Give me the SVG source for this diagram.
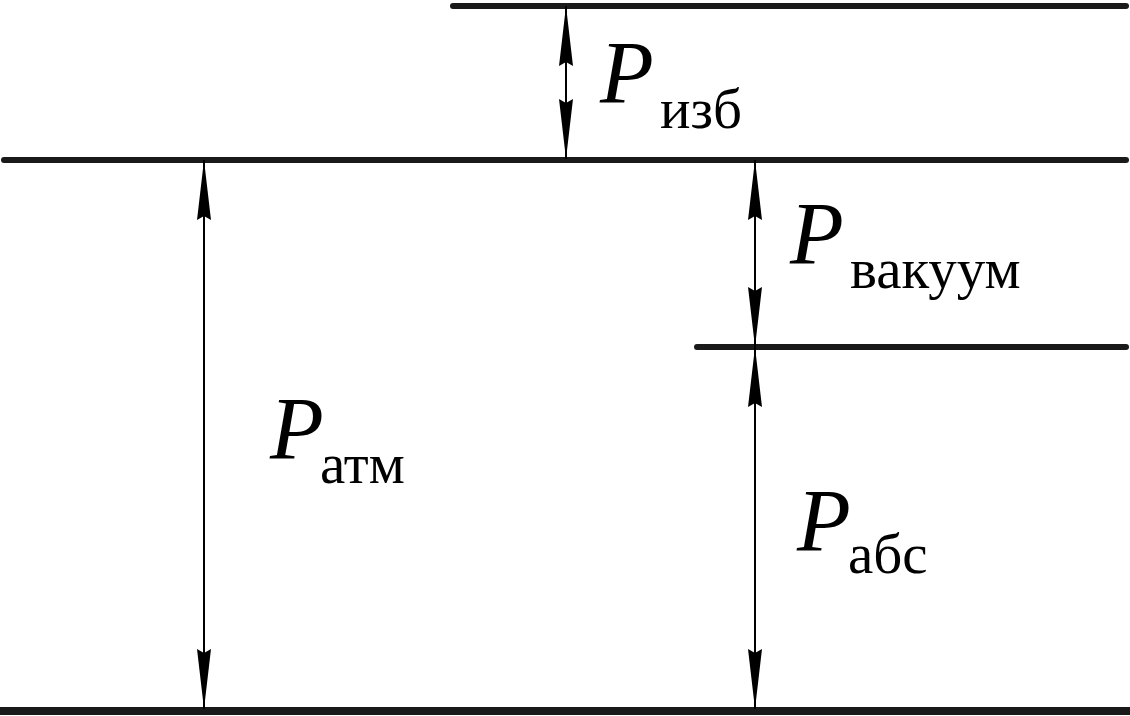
<svg xmlns="http://www.w3.org/2000/svg" width="1130" height="716" viewBox="0 0 1130 716">
<defs>
<marker id="ah" markerUnits="userSpaceOnUse" markerWidth="62" markerHeight="16" viewBox="0 -8 62 16" refX="60" refY="0" orient="auto-start-reverse" overflow="visible">
<path d="M60,0 L0,-7 L4,0 L0,7 Z" fill="#000"/>
</marker>
<style>
.lvl{stroke:#1a1a1a;stroke-width:6;stroke-linecap:round;fill:none}
.dim{stroke:#000;stroke-width:2;fill:none;marker-start:url(#ah);marker-end:url(#ah)}
.P{font-family:"Liberation Serif","Times New Roman",serif;font-style:italic;font-size:88px;fill:#000}
.s{font-family:"Liberation Serif","Times New Roman",serif;font-size:57px;fill:#000}
</style>
</defs>
<rect width="1130" height="716" fill="#fff"/>
<g id="levels">
<line id="lvl-top" class="lvl" x1="453" y1="6" x2="1126" y2="6"/>
<line id="lvl-atm" class="lvl" x1="4" y1="160" x2="1126" y2="160"/>
<line id="lvl-abs" class="lvl" x1="697" y1="347" x2="1126" y2="347"/>
<line id="lvl-zero" class="lvl" x1="0" y1="711" x2="1130" y2="711" style="stroke-width:8;stroke-linecap:butt"/>
</g>
<g id="connectors">
<line class="dim" x1="566" y1="6" x2="566" y2="159"/>
<line class="dim" x1="204" y1="160" x2="204" y2="709"/>
<line class="dim" x1="755" y1="160" x2="755" y2="347"/>
<line class="dim" x1="755" y1="347" x2="755" y2="709"/>
</g>
<g id="label-izb"><text class="P" x="600" y="102">P</text><text class="s" x="660" y="128">изб</text></g>
<g id="label-vac"><text class="P" x="790" y="263">P</text><text class="s" x="850" y="288">вакуум</text></g>
<g id="label-atm"><text class="P" x="270" y="458">P</text><text class="s" x="320" y="483">атм</text></g>
<g id="label-abs"><text class="P" x="797" y="550">P</text><text class="s" x="848" y="573">абс</text></g>
</svg>
